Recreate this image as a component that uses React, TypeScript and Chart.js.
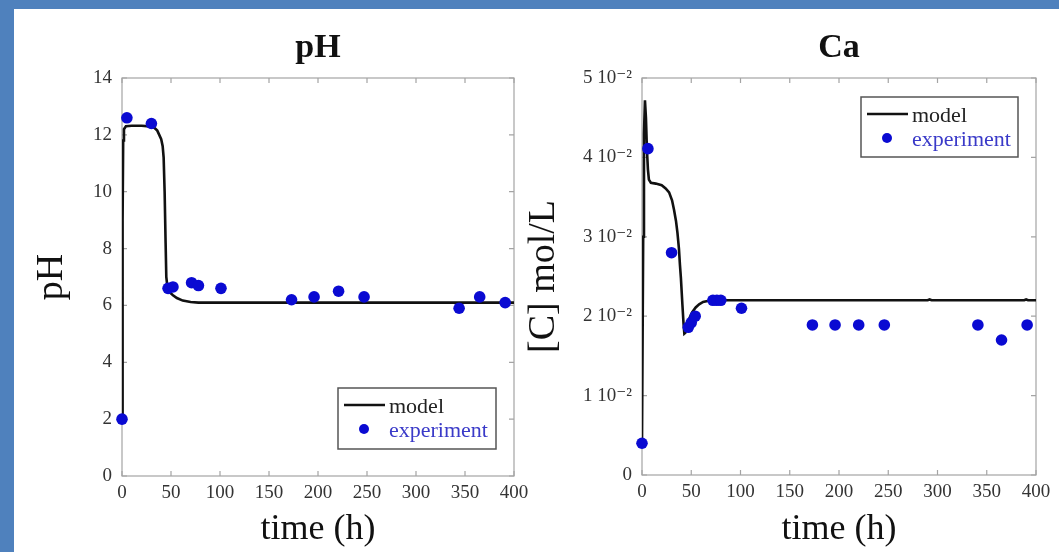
import React, { useEffect, useRef } from 'react';
import { Chart, registerables } from 'chart.js';

Chart.register(...registerables);

// ---------- data ----------
const timeTickLabels = ['0', '50', '100', '150', '200', '250', '300', '350', '400'];
const phTickLabels = ['0', '2', '4', '6', '8', '10', '12', '14'];
const caTickLabels = ['0', '1 10⁻²', '2 10⁻²', '3 10⁻²', '4 10⁻²', '5 10⁻²'];

const phModelX = [0, 0.6, 1.2, 2, 4, 10, 20, 28, 33, 36, 38, 40, 41.5, 42.5, 43.5, 44.5, 45.2, 46.5, 48, 52, 56, 62, 70, 78, 100, 200, 300, 400];
const phModelY = [2, 9, 11.8, 12.2, 12.3, 12.32, 12.32, 12.3, 12.25, 12.15, 12.0, 11.85, 11.6, 11.2, 10.0, 8.2, 7.0, 6.6, 6.48, 6.36, 6.26, 6.17, 6.12, 6.1, 6.1, 6.1, 6.1, 6.1];
const phExpX = [0, 5, 30, 47, 52, 71, 78, 101, 173, 196, 221, 247, 344, 365, 391];
const phExpY = [2.0, 12.6, 12.4, 6.6, 6.65, 6.8, 6.7, 6.6, 6.2, 6.3, 6.5, 6.3, 5.9, 6.3, 6.1];

const caModelX = [0, 1.2, 2, 3, 4, 5, 6, 7, 9, 14, 20, 24, 27.5, 30.5, 32.5, 34.5, 36, 37.5, 38.5, 39.5, 41, 42.2, 43, 44, 46, 48, 51, 54.5, 58, 62, 70, 100, 200, 290, 292, 294, 300, 388, 390, 392, 400];
const caModelY = [0.004, 0.03, 0.043, 0.0472, 0.045, 0.041, 0.0385, 0.0372, 0.0368, 0.0367, 0.0365, 0.0361, 0.0356, 0.0346, 0.0334, 0.032, 0.0305, 0.0285, 0.0265, 0.0248, 0.0215, 0.019, 0.0178, 0.0179, 0.0189, 0.0197, 0.0205, 0.0211, 0.0215, 0.0218, 0.022, 0.022, 0.022, 0.022, 0.0221, 0.022, 0.022, 0.022, 0.0221, 0.022, 0.022];
const caExpX = [0, 6, 30, 47, 50, 54, 72, 76, 80, 101, 173, 196, 220, 246, 341, 365, 391];
const caExpY = [0.004, 0.0411, 0.028, 0.0186, 0.0192, 0.02, 0.022, 0.022, 0.022, 0.021, 0.0189, 0.0189, 0.0189, 0.0189, 0.0189, 0.017, 0.0189];

const seriesLabels = ['model', 'experiment'];

// ---------- styling ----------
const SERIF = "'Liberation Serif', 'Times New Roman', 'DejaVu Serif', serif";
const MODEL_COLOR = '#111111';
const EXP_COLOR = '#0a0ad2';
const EXP_TEXT_COLOR = '#3a3ac8';

const toPoints = (xs: number[], ys: number[]) => xs.map((x, i) => ({ x, y: ys[i] }));

const framePlugin = {
  id: 'frame',
  beforeDatasetsDraw(chart: any) {
    const { ctx, chartArea: a, scales } = chart;
    const L = 5;
    ctx.save();
    ctx.strokeStyle = '#a4a4a4';
    ctx.lineWidth = 1.2;
    ctx.strokeRect(a.left, a.top, a.right - a.left, a.bottom - a.top);
    ctx.beginPath();
    scales.x.ticks.forEach((t: any) => {
      const px = scales.x.getPixelForValue(t.value);
      ctx.moveTo(px, a.bottom);
      ctx.lineTo(px, a.bottom - L);
      ctx.moveTo(px, a.top);
      ctx.lineTo(px, a.top + L);
    });
    scales.y.ticks.forEach((t: any) => {
      const py = scales.y.getPixelForValue(t.value);
      ctx.moveTo(a.left, py);
      ctx.lineTo(a.left + L, py);
      ctx.moveTo(a.right, py);
      ctx.lineTo(a.right - L, py);
    });
    ctx.stroke();
    ctx.restore();
  },
};

const legendBoxPlugin = {
  id: 'legendBox',
  afterDatasetsDraw(chart: any, _args: any, opts: any) {
    const { ctx, chartArea: a } = chart;
    const w = opts.width;
    const h = opts.height;
    const left = a.right - opts.insetRight - w;
    const top = opts.anchor === 'top' ? a.top + opts.insetY : a.bottom - opts.insetY - h;
    ctx.save();
    ctx.fillStyle = '#ffffff';
    ctx.fillRect(left, top, w, h);
    ctx.strokeStyle = '#555555';
    ctx.lineWidth = 1.5;
    ctx.strokeRect(left, top, w, h);
    const ds = chart.data.datasets;
    // model row
    ctx.strokeStyle = MODEL_COLOR;
    ctx.lineWidth = 2.6;
    ctx.beginPath();
    ctx.moveTo(left + 6, top + 17);
    ctx.lineTo(left + 47, top + 17);
    ctx.stroke();
    ctx.font = `22px ${SERIF}`;
    ctx.textBaseline = 'middle';
    ctx.textAlign = 'left';
    ctx.fillStyle = '#222222';
    ctx.fillText(ds[0].label, left + 51, top + 19);
    // experiment row
    ctx.fillStyle = EXP_COLOR;
    ctx.beginPath();
    ctx.arc(left + 26, top + 41, 5, 0, Math.PI * 2);
    ctx.fill();
    ctx.fillStyle = EXP_TEXT_COLOR;
    ctx.fillText(ds[1].label, left + 51, top + 43);
    ctx.restore();
  },
};

type Cfg = {
  title: string;
  yTitle: string;
  yTitlePad: number;
  yMax: number;
  yStep: number;
  yLabels: string[];
  modelX: number[];
  modelY: number[];
  expX: number[];
  expY: number[];
  yAxisWidth: number;
  xAxisHeight: number;
  rightPad: number;
  legend: any;
};

function makeConfig(c: Cfg): any {
  return {
    type: 'scatter',
    data: {
      datasets: [
        {
          label: seriesLabels[0],
          data: toPoints(c.modelX, c.modelY),
          showLine: true,
          borderColor: MODEL_COLOR,
          borderWidth: 2.6,
          pointRadius: 0,
          pointHoverRadius: 0,
          tension: 0,
          order: 1,
        },
        {
          label: seriesLabels[1],
          data: toPoints(c.expX, c.expY),
          showLine: false,
          backgroundColor: EXP_COLOR,
          borderColor: EXP_COLOR,
          borderWidth: 0,
          pointRadius: 5.8,
          pointHoverRadius: 5.8,
          clip: false,
          order: 0,
        },
      ],
    },
    options: {
      animation: false,
      responsive: true,
      maintainAspectRatio: false,
      events: [],
      layout: { padding: { left: 0, top: 0, right: c.rightPad, bottom: 0 } },
      plugins: {
        legend: { display: false },
        tooltip: { enabled: false },
        title: {
          display: true,
          text: c.title,
          fullSize: false,
          color: '#111111',
          font: { family: SERIF, size: 34, weight: 'bold', lineHeight: 1 },
          padding: { top: 22.5, bottom: 12.5 },
        },
        legendBox: c.legend,
      },
      scales: {
        x: {
          type: 'linear',
          min: 0,
          max: 400,
          grid: { display: false, drawTicks: false, tickLength: 0 },
          border: { display: false },
          ticks: {
            stepSize: 50,
            autoSkip: false,
            maxRotation: 0,
            padding: 6,
            color: '#333333',
            font: { family: SERIF, size: 19, lineHeight: 1.2 },
            callback: (_v: any, i: number) => timeTickLabels[i],
          },
          title: {
            display: true,
            text: 'time (h)',
            color: '#111111',
            font: { family: SERIF, size: 36, lineHeight: 1 },
            padding: { top: 0, bottom: 4 },
          },
          afterFit: (s: any) => {
            s.height = c.xAxisHeight;
          },
        },
        y: {
          type: 'linear',
          min: 0,
          max: c.yMax,
          grid: { display: false, drawTicks: false, tickLength: 0 },
          border: { display: false },
          ticks: {
            stepSize: c.yStep,
            autoSkip: false,
            padding: 10,
            color: '#333333',
            font: { family: SERIF, size: 19, lineHeight: 1.2 },
            callback: (_v: any, i: number) => c.yLabels[i],
          },
          title: {
            display: true,
            text: c.yTitle,
            color: '#111111',
            font: { family: SERIF, size: 38, lineHeight: 1 },
            padding: { top: c.yTitlePad, bottom: 0 },
          },
          afterFit: (s: any) => {
            s.width = c.yAxisWidth;
          },
        },
      },
    },
    plugins: [framePlugin, legendBoxPlugin],
  };
}

function ChartBox({ cfg, left, top, width, height }: { cfg: any; left: number; top: number; width: number; height: number }) {
  const ref = useRef<HTMLCanvasElement>(null);
  useEffect(() => {
    const chart = new Chart(ref.current as HTMLCanvasElement, cfg);
    return () => chart.destroy();
  }, []);
  return (
    <div style={{ position: 'absolute', left, top, width, height }}>
      <canvas ref={ref} />
    </div>
  );
}

export default function App() {
  const phCfg = makeConfig({
    title: 'pH',
    yTitle: 'pH',
    yTitlePad: 19,
    yMax: 14,
    yStep: 2,
    yLabels: phTickLabels,
    modelX: phModelX,
    modelY: phModelY,
    expX: phExpX,
    expY: phExpY,
    yAxisWidth: 108,
    xAxisHeight: 76,
    rightPad: 22,
    legend: { anchor: 'bottom', insetRight: 18, insetY: 27, width: 158, height: 61 },
  });
  const caCfg = makeConfig({
    title: 'Ca',
    yTitle: '[C] mol/L',
    yTitlePad: 5,
    yMax: 0.05,
    yStep: 0.01,
    yLabels: caTickLabels,
    modelX: caModelX,
    modelY: caModelY,
    expX: caExpX,
    expY: caExpY,
    yAxisWidth: 122,
    xAxisHeight: 77,
    rightPad: 23,
    legend: { anchor: 'top', insetRight: 18, insetY: 19, width: 157, height: 60 },
  });
  return (
    <div style={{ position: 'fixed', left: 0, top: 0, width: 1059, height: 552, background: '#4f81bd', overflow: 'hidden' }}>
      <div style={{ position: 'absolute', left: 14, top: 9, right: 0, bottom: 0, background: '#ffffff' }} />
      <ChartBox cfg={phCfg} left={14} top={9} width={522} height={543} />
      <ChartBox cfg={caCfg} left={520} top={9} width={539} height={543} />
    </div>
  );
}
